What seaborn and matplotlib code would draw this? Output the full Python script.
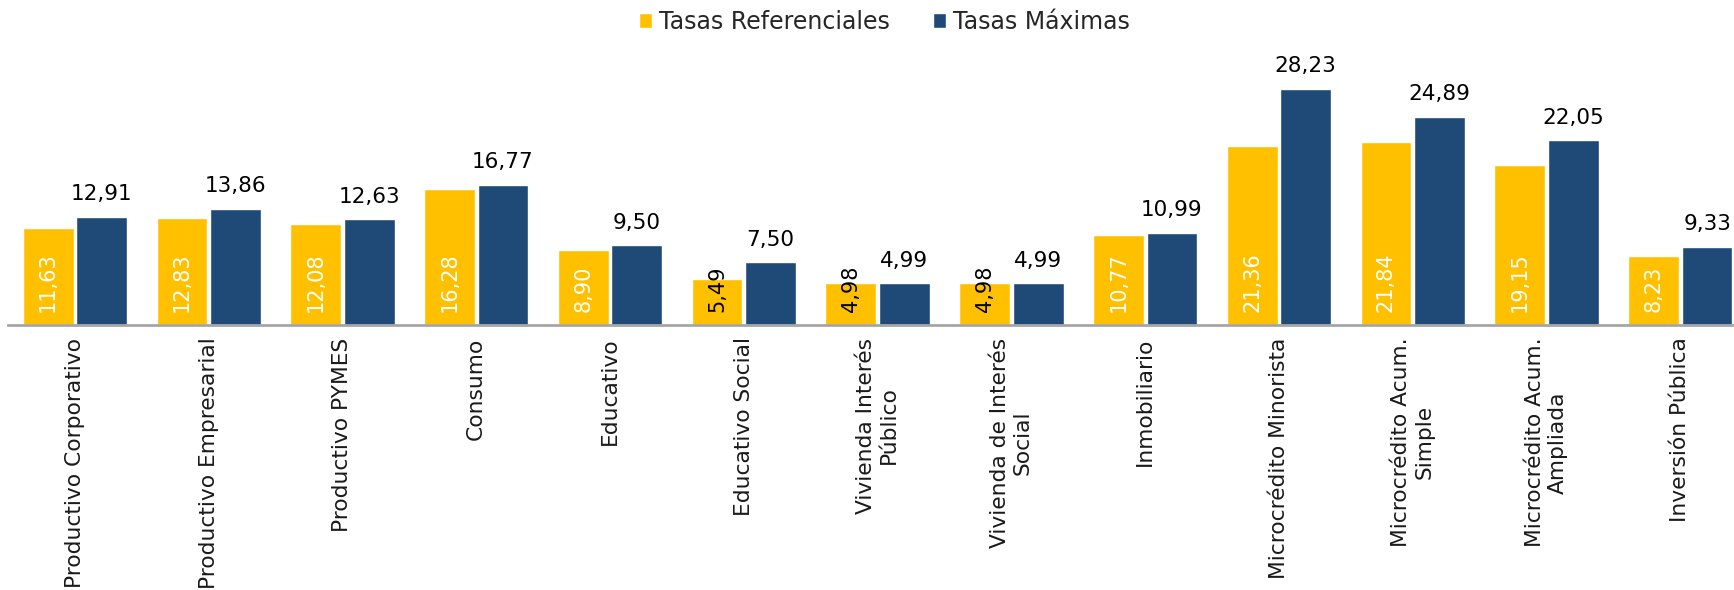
import matplotlib
matplotlib.use("Agg")
import matplotlib.pyplot as plt
import seaborn as sns
import pandas as pd
from matplotlib.patches import Patch

categorias = [
    "Productivo Corporativo", "Productivo Empresarial", "Productivo PYMES",
    "Consumo", "Educativo", "Educativo Social", "Vivienda Interés\nPúblico",
    "Vivienda de Interés\nSocial", "Inmobiliario", "Microcrédito Minorista",
    "Microcrédito Acum.\nSimple", "Microcrédito Acum.\nAmpliada", "Inversión Pública",
]
tasas_referenciales = [11.63, 12.83, 12.08, 16.28, 8.90, 5.49, 4.98, 4.98, 10.77, 21.36, 21.84, 19.15, 8.23]
tasas_maximas = [12.91, 13.86, 12.63, 16.77, 9.50, 7.50, 4.99, 4.99, 10.99, 28.23, 24.89, 22.05, 9.33]
series = ["Tasas Referenciales", "Tasas Máximas"]
colores = ["#FFC000", "#1F4A78"]

df = pd.DataFrame({
    "categoria": categorias * 2,
    "serie": [series[0]] * len(categorias) + [series[1]] * len(categorias),
    "valor": tasas_referenciales + tasas_maximas,
})

sns.set_theme(style="white")
plt.rcParams["font.family"] = ["DejaVu Sans"]

fig = plt.figure(figsize=(17.34, 5.9), dpi=100)
ax = fig.add_axes([8 / 1734, 265 / 590, 1.003, 293 / 590])

sns.barplot(data=df, x="categoria", y="valor", hue="serie", hue_order=series,
            palette=colores, width=0.8, gap=0.05, saturation=1, ax=ax, legend=False)

ax.set_xlim(-0.5, 12.5)
ax.set_ylim(0, 35)
ax.set_xlabel("")
ax.set_ylabel("")
ax.set_yticks([])
for s in ["top", "right", "left"]:
    ax.spines[s].set_visible(False)
ax.spines["bottom"].set_color("#A6A6A6")
ax.spines["bottom"].set_linewidth(2)

ax.tick_params(axis="x", length=0, pad=9)
ax.set_xticks(range(len(categorias)))
ax.set_xticklabels(categorias, rotation=90, fontsize=15.7, color="#1a1a1a",
                   multialignment="center")

def fmt(v):
    return f"{v:.2f}".replace(".", ",")

# values at the base of the yellow bars; short bars get dark text
for bar, v in zip(ax.containers[0], tasas_referenciales):
    ax.annotate(fmt(v), xy=(bar.get_x() + bar.get_width() / 2, 0),
                xytext=(0, 9), textcoords="offset points", rotation=90,
                ha="center", va="bottom", fontsize=15,
                color="white" if v > 6 else "black")

# values above the navy bars
ax.bar_label(ax.containers[1], labels=[fmt(v) for v in tasas_maximas],
             padding=9, fontsize=15.5, color="black")

handles = [Patch(facecolor=c, label=s) for c, s in zip(colores, series)]
fig.legend(handles=handles, loc="center", bbox_to_anchor=(0.51, 0.963), ncol=2,
           frameon=False, fontsize=17, handlelength=0.55, handleheight=0.55,
           handletextpad=0.3, columnspacing=1.8)

fig.savefig("out.png", dpi=100)
